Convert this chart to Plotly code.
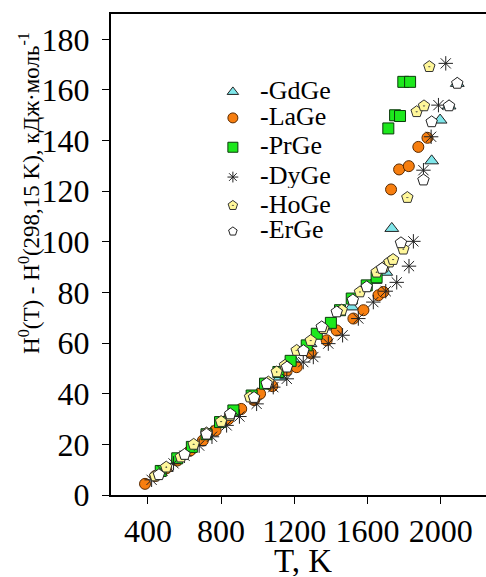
import plotly.graph_objects as go

# Enthalpy increment H0(T) - H0(298.15 K) of rare-earth monogermanides
gdge_T = [500, 620, 750, 880, 1000, 1122, 1200, 1286, 1386, 1514, 1641, 1700, 1733, 1951, 1997, 2046, 2091]
gdge_H = [10.5, 17.5, 25, 33, 40, 46.6, 53, 59.8, 66.4, 74.3, 84.8, 88, 105.3, 132, 148.1, 153.7, 162.6]

lage_T = [384, 440, 500, 560, 630, 700, 770, 840, 910, 980, 1013, 1080, 1159, 1213, 1290, 1377, 1432, 1523, 1578, 1660, 1687, 1729, 1773, 1826, 1878, 1928]
lage_H = [4.4, 7.5, 10.5, 13.6, 17.5, 21.5, 25.5, 30, 34, 37.5, 40, 43, 49.2, 50.5, 56, 61.1, 65, 69.7, 73, 78.9, 80.2, 120.7, 128.6, 129.9, 137.5, 141.1]

prge_T = [470, 560, 640, 720, 794, 867, 967, 1040, 1113, 1180, 1268, 1323, 1400, 1450, 1514, 1596, 1650, 1714, 1751, 1778, 1796, 1833]
prge_H = [9.5, 14.5, 19, 24, 28.8, 33.4, 39.3, 44, 48.6, 53, 59.1, 63.7, 68, 73, 77.6, 82.8, 86, 144.8, 150, 149.7, 163.2, 163.2]

dyge_T = [420, 480, 540, 600, 680, 750, 830, 900, 994, 1085, 1159, 1249, 1304, 1386, 1464, 1550, 1632, 1700, 1760, 1827, 1851, 1906, 1948, 1988, 2028]
dyge_H = [6, 9.5, 12.5, 15.5, 19.5, 23, 27.5, 31, 36, 42.6, 45.9, 52.5, 54.5, 59.8, 63.1, 69.7, 76.2, 80.5, 84, 90.4, 100.2, 128.3, 141.5, 154, 170.5]

hoge_T = [440, 500, 580, 650, 720, 800, 849, 958, 1058, 1104, 1149, 1213, 1290, 1359, 1459, 1559, 1650, 1690, 1720, 1740, 1796, 1818, 1869, 1909, 1938]
hoge_H = [7.5, 11, 15, 20, 24.5, 29, 31.4, 38.7, 44.6, 48.6, 51.2, 57.1, 61, 65.7, 73, 80.2, 88, 90, 92, 93, 97.1, 117.5, 151.4, 153.7, 169.2]

erge_T = [460, 600, 720, 850, 980, 1049, 1160, 1250, 1350, 1432, 1520, 1596, 1680, 1783, 1906, 1951, 2046, 2091]
erge_H = [8, 16, 24, 32, 38.5, 44, 50.5, 57, 66.4, 72.3, 77, 82.2, 89.5, 99.6, 124.4, 147.4, 153.7, 162.6]

names = ["GdGe", "LaGe", "PrGe", "DyGe", "HoGe", "ErGe"]
x_ticks = [400, 800, 1200, 1600, 2000]
y_ticks = [0, 20, 40, 60, 80, 100, 120, 140, 160, 180]

# legend key positions as fractions of the plotting area
key_x = [0.325, 0.325, 0.325, 0.325, 0.325, 0.325]
key_y = [0.838, 0.784, 0.723, 0.661, 0.602, 0.548]
text_y = [0.842, 0.788, 0.727, 0.665, 0.606, 0.552]

styles = [
    dict(symbol="triangle-up", size=12, color="#7FE6EA", line=dict(color="#222", width=1)),
    dict(symbol="circle", size=11, color="#F77E0F", line=dict(color="#5a2a00", width=1)),
    dict(symbol="square", size=11, color="#1DE81D", line=dict(color="#0b3a0b", width=1)),
    dict(symbol="asterisk-open", size=12, color="#222", line=dict(color="#222", width=1)),
    dict(symbol="pentagon-dot", size=12, color="#FFF79A", line=dict(color="#333", width=1)),
    dict(symbol="pentagon", size=12, color="white", line=dict(color="#222", width=1)),
]
key_sizes = [10, 10, 10, 9, 10, 9]

series = [(gdge_T, gdge_H), (lage_T, lage_H), (prge_T, prge_H),
          (dyge_T, dyge_H), (hoge_T, hoge_H), (erge_T, erge_H)]

serif = "Liberation Serif"

fig = go.Figure()
for name, (t, h), st in zip(names, series, styles):
    fig.add_trace(go.Scatter(x=t, y=h, mode="markers", name=name, marker=st, showlegend=False))

# hand-laid legend keys on an invisible overlay axis
for i, (name, st) in enumerate(zip(names, styles)):
    key = dict(st)
    key["size"] = key_sizes[i]
    fig.add_trace(go.Scatter(x=[key_x[i]], y=[key_y[i]], mode="markers", marker=key,
                             xaxis="x2", yaxis="y2", showlegend=False, hoverinfo="skip"))
    fig.add_annotation(x=0.392, y=text_y[i], xref="paper", yref="paper", text="-" + name,
                       showarrow=False, xanchor="left", yanchor="middle", height=26,
                       font=dict(family=serif, size=26, color="black"))

fig.add_annotation(x=0.512, y=-0.138, xref="paper", yref="paper", text="T, K", showarrow=False,
                   xanchor="center", yanchor="middle", height=30,
                   font=dict(family=serif, size=33, color="black"))
fig.add_annotation(x=-0.216, y=0.628, xref="paper", yref="paper", textangle=-90,
                   text="H<sup>0</sup>(T) - H<sup>0</sup>(298,15 K), кДж·моль<sup>-1</sup>",
                   showarrow=False, xanchor="center", yanchor="middle",
                   font=dict(family=serif, size=23, color="black"))

fig.update_layout(
    width=486, height=577,
    margin=dict(l=111, r=0, t=14, b=82),
    paper_bgcolor="white", plot_bgcolor="white",
    font=dict(family=serif, color="black"),
    xaxis=dict(range=[198, 2248], tickvals=x_ticks, ticks="outside", ticklen=7, tickwidth=1,
               tickcolor="black", showline=True, linecolor="black", linewidth=2, mirror=True,
               showgrid=False, zeroline=False, tickfont=dict(size=32, family=serif)),
    yaxis=dict(range=[0, 190], tickvals=y_ticks, ticks="outside", ticklen=7, tickwidth=1,
               tickcolor="black", showline=True, linecolor="black", linewidth=2,
               showgrid=False, zeroline=False, ticklabelstandoff=6,
               tickfont=dict(size=32, family=serif)),
    xaxis2=dict(overlaying="x", range=[0, 1], visible=False),
    yaxis2=dict(overlaying="y", range=[0, 1], visible=False),
)

fig.write_html("out.html")
